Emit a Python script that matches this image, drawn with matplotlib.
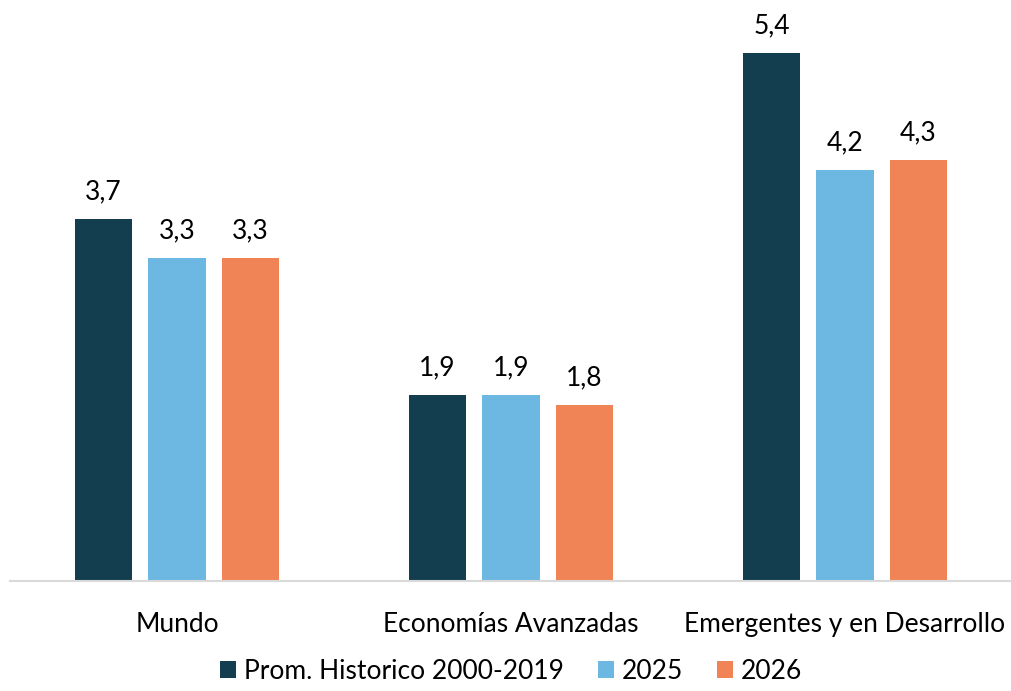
import matplotlib.pyplot as plt
import numpy as np

# Datos del gráfico
categorias = ["Mundo", "Economías Avanzadas", "Emergentes y en Desarrollo"]
series = ["Prom. Historico 2000-2019", "2025", "2026"]
prom_historico = [3.7, 1.9, 5.4]
valores_2025 = [3.3, 1.9, 4.2]
valores_2026 = [3.3, 1.8, 4.3]

colores = ["#123e50", "#6cb8e2", "#f08457"]

plt.rcParams['font.family'] = ['Lato', 'DejaVu Sans']

fig = plt.figure(figsize=(10.12, 6.91), dpi=100)
ax = fig.add_axes([10 / 1012, 110 / 691, 1002 / 1012, 581 / 691])

x = np.arange(len(categorias))
ancho = 0.171
paso = 0.22

for i, (nombre, vals) in enumerate(zip(series, [prom_historico, valores_2025, valores_2026])):
    pos = x + (i - 1) * paso
    barras = ax.bar(pos, vals, width=ancho, color=colores[i], label=nombre)
    for b, v in zip(barras, vals):
        ax.text(b.get_x() + b.get_width() / 2, v + 0.15, f"{v:.1f}".replace(".", ","),
                ha="center", va="bottom", fontsize=19, color="#000000")

ax.set_xlim(-0.5, 2.5)
ax.set_ylim(0, 5.94)
ax.set_yticks([])
ax.set_xticks(x)
ax.set_xticklabels(categorias, fontsize=19)
ax.tick_params(axis="x", length=0, pad=22)
for lado in ["top", "right", "left"]:
    ax.spines[lado].set_visible(False)
ax.spines["bottom"].set_color("#d9d9d9")
ax.spines["bottom"].set_linewidth(1.5)

fig.legend(loc="lower center", bbox_to_anchor=(0.505, -0.024), ncol=3, frameon=False,
           fontsize=19, handlelength=0.6, handleheight=0.6, handletextpad=0.3,
           columnspacing=1.3)

fig.savefig("out.png", dpi=100)
